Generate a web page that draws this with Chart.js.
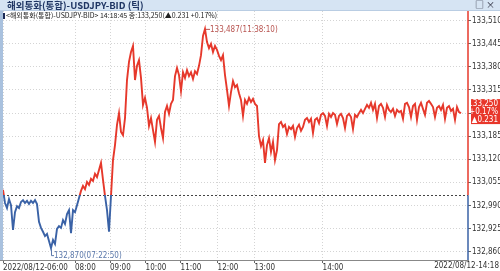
<!DOCTYPE html>
<html>
<head>
<meta charset="utf-8">
<script src="https://cdn.jsdelivr.net/npm/chart.js@4.4.0/dist/chart.umd.min.js"></script>
<style>
  html, body { margin: 0; padding: 0; background: #fff; }
  #wrap { position: relative; width: 500px; height: 271px; overflow: hidden; font-family: "Noto Sans CJK KR", sans-serif; }
  #titlebar { position: absolute; left: 0; top: 0; width: 500px; height: 11px; background: #d6e4f3; border-bottom: 1px solid #b9cde3; box-sizing: border-box; font-size: 9.5px; font-weight: bold; color: #1f3563; line-height: 10px; padding-left: 7px; z-index: 2; }
  #icons { position: absolute; right: 5px; top: 0; font-size: 9px; line-height: 10px; color: #223; font-weight: normal; }
  #legend { position: absolute; left: 3px; top: 11px; font-size: 7px; color: #222; line-height: 9px; z-index: 2; white-space: nowrap; }
  #legend .mark { display: inline-block; width: 2px; height: 6px; background: #1b2a55; margin-right: 1px; vertical-align: -1px; }
  #leftbar { position: absolute; left: 0; top: 11px; width: 3px; height: 249px; background: #a9c1de; z-index: 1; }
  canvas { position: absolute; left: 0; top: 0; }
</style>
</head>
<body>
<div id="wrap">
  <canvas id="chart" width="500" height="271"></canvas>
  <div id="titlebar">해외통화(통합)-USDJPY-BID (틱)<span id="icons">&#9633; &#215;</span></div>
  <div id="leftbar"></div>
  <div id="legend"><span class="mark"></span>&lt;해외통화(통합)-USDJPY-BID&gt; 14:18:45 종:133,250(▲0.231 +0.17%)</div>
</div>
<script>
// tick positions on the index axis and their labels
const tickPos = [0, 36, 53.5, 71.3, 88.8, 107.3, 125.7, 159.8];
const tickLabels = ["2022/08/12-06:00", "08:00", "09:00", "10:00", "11:00", "12:00", "13:00", "14:00"];
const endLabel = "2022/08/12-14:18";
const yTicks = [132.860, 132.925, 132.990, 133.055, 133.120, 133.185, 133.250, 133.315, 133.380, 133.445, 133.510];
const prevClose = 133.019;
const lastInfo = ["133,250", "+0.17%", "▲0.231"];
const highText = "133,487(11:38:10)";
const lowText = "132,870(07:22:50)";

const prices = [
  133.034, 132.997, 132.983, 133.008, 132.991, 132.921, 132.971, 132.988, 132.983, 133.000,
  133.005, 132.997, 133.003, 132.994, 133.003, 132.997, 133.005, 132.994, 132.944, 132.927,
  132.916, 132.904, 132.910, 132.890, 132.870, 132.893, 132.882, 132.924, 132.932, 132.927,
  132.949, 132.938, 132.966, 132.977, 132.912, 132.977, 132.971, 132.991, 133.011, 133.031,
  133.045, 133.036, 133.056, 133.048, 133.065, 133.059, 133.079, 133.070, 133.090, 133.110,
  133.062, 133.017, 132.977, 132.916, 133.017, 133.118, 133.160, 133.217, 133.250, 133.197,
  133.188, 133.236, 133.343, 133.394, 133.422, 133.439, 133.343, 133.383, 133.399, 133.349,
  133.273, 133.293, 133.265, 133.214, 133.236, 133.202, 133.169, 133.231, 133.242, 133.208,
  133.180, 133.253, 133.270, 133.248, 133.276, 133.287, 133.354, 133.377, 133.357, 133.312,
  133.365, 133.349, 133.371, 133.354, 133.365, 133.346, 133.368, 133.360, 133.383, 133.413,
  133.467, 133.487, 133.450, 133.433, 133.445, 133.422, 133.439, 133.428, 133.411, 133.399,
  133.413, 133.357, 133.315, 133.270, 133.309, 133.340, 133.323, 133.329, 133.306, 133.287,
  133.242, 133.287, 133.276, 133.293, 133.281, 133.290, 133.276, 133.270, 133.185, 133.157,
  133.174, 133.110, 133.160, 133.180, 133.141, 133.169, 133.118, 133.146, 133.219, 133.225,
  133.211, 133.217, 133.191, 133.211, 133.205, 133.214, 133.183, 133.208, 133.217, 133.200,
  133.211, 133.231, 133.236, 133.225, 133.234, 133.194, 133.231, 133.236, 133.222, 133.245,
  133.250, 133.242, 133.214, 133.248, 133.239, 133.250, 133.245, 133.219, 133.242, 133.248,
  133.236, 133.208, 133.242, 133.248, 133.239, 133.205, 133.245, 133.239, 133.250, 133.259,
  133.250, 133.262, 133.273, 133.265, 133.279, 133.259, 133.276, 133.236, 133.270, 133.276,
  133.265, 133.239, 133.273, 133.259, 133.253, 133.262, 133.242, 133.259, 133.253, 133.256,
  133.234, 133.276, 133.279, 133.267, 133.239, 133.270, 133.276, 133.231, 133.267, 133.279,
  133.262, 133.245, 133.279, 133.284, 133.276, 133.267, 133.239, 133.265, 133.270, 133.259,
  133.273, 133.234, 133.265, 133.270, 133.256, 133.262, 133.231, 133.267, 133.253, 133.250
];

const RED = "#e6382b";
const BLUE = "#3a62a6";
const tickFont = { family: '"Liberation Sans Narrow", "DejaVu Sans Condensed", sans-serif', size: 8 };

function splitColor(context) {
  const chart = context.chart;
  const area = chart.chartArea;
  if (!area) return RED;
  const yb = chart.scales.y.getPixelForValue(prevClose);
  const f = Math.min(1, Math.max(0, (yb - area.top) / (area.bottom - area.top)));
  const g = chart.ctx.createLinearGradient(0, area.top, 0, area.bottom);
  g.addColorStop(0, RED);
  g.addColorStop(f, RED);
  g.addColorStop(f, BLUE);
  g.addColorStop(1, BLUE);
  return g;
}

const extras = {
  id: "extras",
  beforeDatasetsDraw(chart) {
    const { ctx, chartArea, scales } = chart;
    const yb = scales.y.getPixelForValue(prevClose);
    ctx.save();
    ctx.strokeStyle = "#444";
    ctx.lineWidth = 1;
    ctx.setLineDash([2, 2]);
    ctx.beginPath();
    ctx.moveTo(chartArea.left, Math.round(yb) + 0.5);
    ctx.lineTo(chartArea.right, Math.round(yb) + 0.5);
    ctx.stroke();
    ctx.restore();
  },
  afterDraw(chart) {
    const { ctx, chartArea, scales } = chart;
    const x = scales.x, y = scales.y;
    const yb = y.getPixelForValue(prevClose);
    ctx.save();
    // price axis line, red above previous close and blue below
    ctx.lineWidth = 1.5;
    ctx.strokeStyle = RED;
    ctx.beginPath();
    ctx.moveTo(chartArea.right, chartArea.top);
    ctx.lineTo(chartArea.right, yb);
    ctx.stroke();
    ctx.strokeStyle = BLUE;
    ctx.beginPath();
    ctx.moveTo(chartArea.right, yb);
    ctx.lineTo(chartArea.right, chartArea.bottom);
    ctx.stroke();

    // bottom axis line runs under the left bar too
    ctx.strokeStyle = "#888";
    ctx.lineWidth = 1;
    ctx.beginPath();
    ctx.moveTo(0, chartArea.bottom + 0.5);
    ctx.lineTo(chartArea.left, chartArea.bottom + 0.5);
    ctx.stroke();

    // high / low marks
    let hi = 0, lo = 0;
    prices.forEach((p, i) => { if (p > prices[hi]) hi = i; if (p < prices[lo]) lo = i; });
    ctx.font = '8px ' + tickFont.family;
    ctx.textBaseline = "middle";
    ctx.textAlign = "left";
    const hx = x.getPixelForValue(hi), hy = y.getPixelForValue(prices[hi]);
    ctx.strokeStyle = "#b85450";
    ctx.fillStyle = "#b85450";
    ctx.beginPath();
    ctx.moveTo(hx + 1, hy + 0.5);
    ctx.lineTo(hx + 5, hy + 0.5);
    ctx.stroke();
    ctx.fillText(highText, hx + 5, hy + 1);
    const lx = x.getPixelForValue(lo), ly = y.getPixelForValue(prices[lo]);
    ctx.strokeStyle = "#5a77aa";
    ctx.fillStyle = "#5a77aa";
    ctx.beginPath();
    ctx.moveTo(Math.round(lx) + 0.5, ly + 1);
    ctx.lineTo(Math.round(lx) + 0.5, ly + 7.5);
    ctx.lineTo(lx + 3, ly + 7.5);
    ctx.stroke();
    ctx.fillText(lowText, lx + 3, ly + 7.5);

    // current price box on the price axis
    const last = prices[prices.length - 1];
    const py = y.getPixelForValue(last);
    ctx.fillStyle = "#e8362a";
    ctx.fillRect(chartArea.right + 3, py - 14, chart.width - chartArea.right - 3, 25);
    ctx.fillStyle = "#fff";
    ctx.textAlign = "right";
    lastInfo.forEach((t, i) => ctx.fillText(t, chart.width - 2, py - 9 + i * 7.8));

    // end time label
    ctx.fillStyle = "#333";
    ctx.textAlign = "right";
    ctx.textBaseline = "top";
    ctx.fillText(endLabel, chart.width - 1, chartArea.bottom + 2);
    ctx.restore();
  }
};

new Chart(document.getElementById("chart"), {
  type: "line",
  data: {
    datasets: [{
      data: prices.map((p, i) => ({ x: i, y: p })),
      borderColor: splitColor,
      borderWidth: 1.9,
      pointRadius: 0,
      tension: 0
    }]
  },
  options: {
    responsive: false,
    animation: false,
    events: [],
    layout: { padding: { top: 11, left: 3, right: 0, bottom: 0 } },
    plugins: { legend: { display: false }, tooltip: { enabled: false } },
    scales: {
      x: {
        type: "linear",
        min: 0,
        max: 232.5,
        afterBuildTicks: (s) => { s.ticks = tickPos.map(v => ({ value: v })); },
        afterFit: (s) => { s.height = 11; },
        ticks: {
          autoSkip: false,
          maxRotation: 0,
          align: "start",
          padding: 0,
          color: "#333",
          font: tickFont,
          callback: (v, i) => tickLabels[i]
        },
        grid: { color: "#d4d4d4", tickLength: 3, tickColor: "#666" },
        border: { display: true, color: "#888", dash: [1, 2] }
      },
      y: {
        position: "right",
        min: 132.8366,
        max: 133.5373,
        afterBuildTicks: (s) => { s.ticks = yTicks.map(v => ({ value: v })); },
        afterFit: (s) => { s.width = 32; },
        ticks: {
          padding: 1,
          color: "#333",
          font: tickFont,
          callback: (v) => v.toFixed(3).replace(".", ",")
        },
        grid: { color: "#d4d4d4", tickLength: 3, tickColor: "#666" },
        border: { display: false, dash: [1, 2] }
      }
    }
  },
  plugins: [extras]
});
</script>
</body>
</html>
